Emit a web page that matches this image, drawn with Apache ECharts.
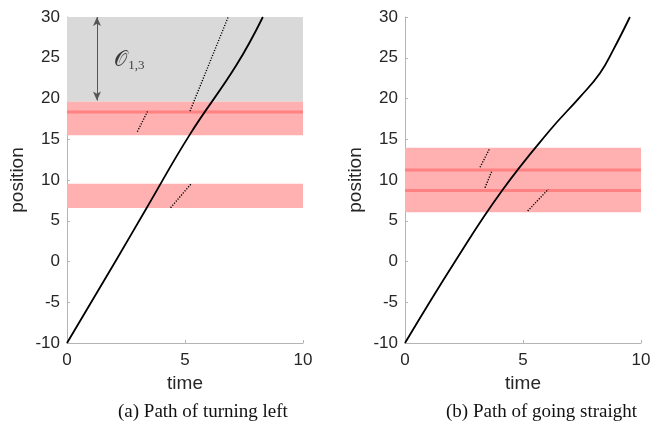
<!DOCTYPE html>
<html>
<head>
<meta charset="utf-8">
<script src="https://cdn.jsdelivr.net/npm/echarts@6/dist/echarts.min.js"></script>
<style>
html,body{margin:0;padding:0;background:#fff;}
#c{width:661px;height:433px;}
</style>
</head>
<body>
<div id="c"></div>
<script>
// ---- data ----
const xTicks = [0, 5, 10];
const yTicks = [-10, -5, 0, 5, 10, 15, 20, 25, 30];
const captions = ['(a) Path of turning left', '(b) Path of going straight'];

// (a) turning left
const leftPath = [[0,-10],[2.05,0],[3.38,6.6],[5.21,15.6],[7.18,24.1],[8.3,30]];
const leftGray = [19.6, 30];
const leftBands = [[15.5, 19.6], [6.55, 9.55]];
const leftBandLines = [18.35];
const leftDotted = [
  [[5.21,18.45],[6.83,30]],
  [[2.98,15.93],[3.41,18.4]],
  [[4.39,6.6],[5.28,9.6]]
];
const leftArrow = [[1.27,30],[1.27,19.75]];
const leftArrowLabel = [2.64, 24.7];

// (b) going straight
const rightPath = [[0,-10],[2.12,0],[4.1,8.65],[6.14,16.1],[7.42,20.2],[8.26,23.1],[8.83,26],[9.53,30]];
const rightBands = [[6.04, 13.96]];
const rightBandLines = [11.23, 8.7];
const rightDotted = [
  [[3.18,11.56],[3.57,13.77]],
  [[3.39,9.06],[3.67,11.02]],
  [[5.2,6.2],[6.07,8.86]]
];

// ---- chart ----
const chart = echarts.init(document.getElementById('c'));
const FONT = '"Liberation Sans", Arial, Helvetica, sans-serif';
const SERIF = '"Liberation Serif", "Times New Roman", serif';
const AX = '#b4b4b4';
const TXT = '#262626';
const BAND = '#ffb1b1';
const BANDLINE = '#ff8181';

function xAx(gi){
  return {
    gridIndex: gi, type:'value', min:0, max:10, interval:5,
    name:'time', nameLocation:'middle', nameGap:28,
    nameTextStyle:{fontFamily:FONT, fontSize:19, color:TXT},
    axisLine:{show:true, onZero:false, lineStyle:{color:AX, width:1}},
    axisTick:{show:true, inside:true, length:3, lineStyle:{color:AX}},
    axisLabel:{fontFamily:FONT, fontSize:17, color:TXT, margin:9,
      formatter:v=> xTicks.includes(v)? String(v):''},
    splitLine:{show:false}
  };
}
function yAx(gi){
  return {
    gridIndex: gi, type:'value', min:-10, max:30, interval:5,
    name:'position', nameLocation:'middle', nameGap:40,
    nameTextStyle:{fontFamily:FONT, fontSize:19, color:TXT},
    axisLine:{show:true, onZero:false, lineStyle:{color:AX, width:1}},
    axisTick:{show:true, inside:true, length:3, lineStyle:{color:AX}},
    axisLabel:{fontFamily:FONT, fontSize:17, color:TXT, margin:7,
      formatter:v=> yTicks.includes(v)? String(v):''},
    splitLine:{show:false}
  };
}

const series = [];
function bandSeries(idx, gray, bands){
  const areas = [];
  if (gray) areas.push([{coord:[0,gray[0]], itemStyle:{color:'#d9d9d9'}},{coord:[10,gray[1]]}]);
  bands.forEach(b => areas.push([{coord:[0,b[0]], itemStyle:{color:BAND}},{coord:[10,b[1]]}]));
  series.push({
    type:'line', xAxisIndex:idx, yAxisIndex:idx, data:[], z:1, silent:true,
    markArea:{silent:true, itemStyle:{opacity:1}, label:{show:false}, data:areas}
  });
}
function bandLines(idx, ys){
  ys.forEach(y => series.push({
    type:'line', xAxisIndex:idx, yAxisIndex:idx, z:2, silent:true,
    data:[[0,y],[10,y]], showSymbol:false, symbol:'none',
    lineStyle:{color:BANDLINE, width:3}
  }));
}
function dotted(idx, segs){
  segs.forEach(s => series.push({
    type:'line', xAxisIndex:idx, yAxisIndex:idx, z:3, silent:true,
    data:s, symbol:'none',
    lineStyle:{color:'#000', width:1.4, type:[1.2,1.5]}
  }));
}
function path(idx, pts){
  series.push({
    type:'line', xAxisIndex:idx, yAxisIndex:idx, z:4, silent:true,
    data:pts, symbol:'none', smooth:0.45,
    lineStyle:{color:'#000', width:1.8}
  });
}

bandSeries(0, leftGray, leftBands);
bandLines(0, leftBandLines);
dotted(0, leftDotted);
path(0, leftPath);

bandSeries(1, null, rightBands);
bandLines(1, rightBandLines);
dotted(1, rightDotted);
path(1, rightPath);

// arrow + annotation
series.push({
  type:'line', xAxisIndex:0, yAxisIndex:0, data:[], z:5, silent:true,
  markLine:{silent:true, symbol:['arrow','arrow'], symbolSize:[6,9],
    label:{show:false},
    lineStyle:{color:'#555', width:1, type:'solid'},
    data:[[{coord:leftArrow[0]},{coord:leftArrow[1]}]]}
});
series.push({
  type:'scatter', xAxisIndex:0, yAxisIndex:0, z:5, silent:true,
  data:[leftArrowLabel], symbolSize:0,
  label:{show:true, position:'inside', formatter:'{o|\u{1D4AA}}{s|1,3}',
    rich:{
      o:{fontFamily:'"DejaVu Serif", "DejaVu Sans", serif', fontSize:21, color:'#111'},
      s:{fontFamily:SERIF, fontSize:13, color:'#111', padding:[10,0,0,1]}
    }}
});

chart.setOption({
  animation:false,
  backgroundColor:'#fff',
  grid:[
    {left:67, top:17, width:236, height:326},
    {left:405, top:17, width:236, height:326}
  ],
  xAxis:[xAx(0), xAx(1)],
  yAxis:[yAx(0), yAx(1)],
  graphic:[
    {type:'text', top:403, left:118, style:{text:captions[0], font:'19px ' + SERIF, fill:'#111'}},
    {type:'text', top:403, left:446, style:{text:captions[1], font:'19px ' + SERIF, fill:'#111'}}
  ],
  series: series
});
</script>
</body>
</html>
